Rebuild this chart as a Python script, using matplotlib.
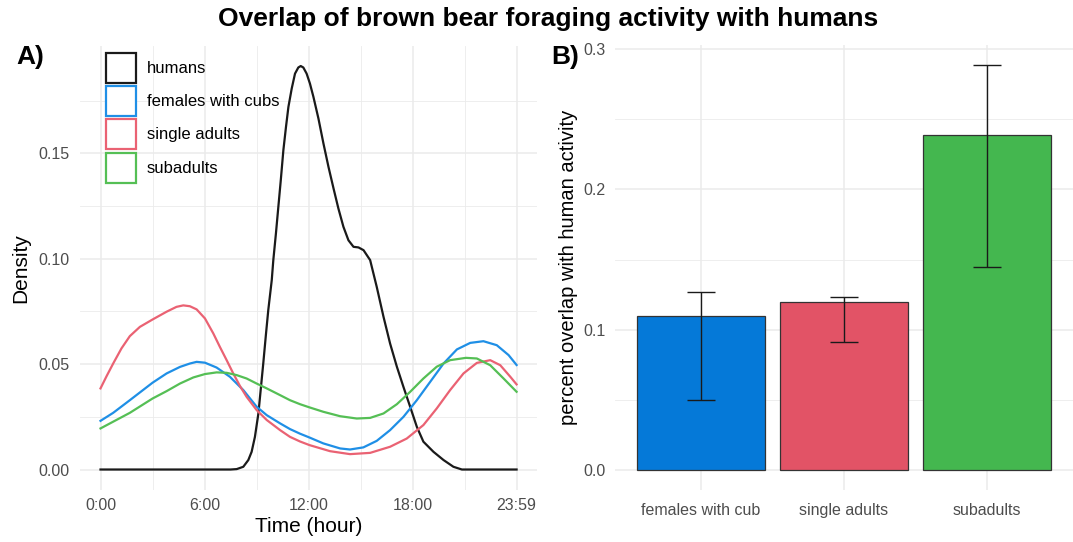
import numpy as np
import matplotlib
matplotlib.use("Agg")
from matplotlib import pyplot as plt
from matplotlib.patches import Patch

plt.rcParams['font.family'] = ['Liberation Sans', 'DejaVu Sans']

# ---- panel A: activity densities (hour of day -> density) ----
humans_h = [0, 7.5, 7.85, 8.23, 8.52, 8.71, 8.9, 9.1, 9.25, 9.38, 9.54, 9.67, 9.87, 9.96,
            10.11, 10.25, 10.39, 10.54, 10.69, 10.83, 11.02, 11.21, 11.4, 11.54, 11.69,
            11.88, 12.07, 12.27, 12.56, 12.85, 13.14, 13.43, 13.71, 14.0, 14.29, 14.58,
            14.87, 15.16, 15.45, 15.54, 15.92, 16.31, 16.69, 17.08, 17.46, 17.85, 18.23,
            18.61, 19.19, 19.77, 20.34, 20.83, 23.98]
humans_d = [0, 0, 0.0002, 0.0013, 0.0045, 0.0084, 0.0155, 0.0266, 0.0393, 0.0503, 0.0646,
            0.0757, 0.0899, 0.0994, 0.112, 0.1247, 0.1373, 0.1516, 0.1626, 0.1721, 0.1808,
            0.1879, 0.1908, 0.1915, 0.1908, 0.1879, 0.1832, 0.1769, 0.1666, 0.1547, 0.1436,
            0.1334, 0.1239, 0.1152, 0.1088, 0.1057, 0.1054, 0.1041, 0.1005, 0.0994, 0.0867,
            0.0725, 0.0598, 0.0488, 0.0392, 0.0297, 0.0203, 0.0132, 0.0084, 0.0045, 0.0013,
            0, 0]

cubs_h = [0, 0.73, 1.69, 3.0, 3.81, 4.58, 5.15, 5.54, 6.02, 6.69, 7.46, 8.23, 9.0, 9.58,
          10.35, 10.92, 11.5, 12.04, 12.84, 13.81, 14.38, 15.15, 15.92, 16.69, 17.46,
          18.23, 19.0, 19.77, 20.54, 21.31, 22.07, 22.84, 23.52, 23.98]
cubs_d = [0.0231, 0.0269, 0.0329, 0.0412, 0.0456, 0.0487, 0.0503, 0.0511, 0.0507, 0.0484,
          0.044, 0.0377, 0.0298, 0.0258, 0.0219, 0.0192, 0.0170, 0.0152, 0.0124, 0.0100,
          0.0095, 0.0105, 0.0136, 0.0187, 0.025, 0.0329, 0.0416, 0.0503, 0.057, 0.0601,
          0.0609, 0.059, 0.0543, 0.0496]

single_h = [0, 0.35, 0.73, 1.21, 1.69, 2.27, 3.0, 3.81, 4.38, 4.77, 5.15, 5.54, 6.02, 6.5,
            6.88, 7.27, 7.65, 8.04, 8.42, 9.0, 9.58, 10.35, 10.92, 11.5, 12.04, 13.23,
            14.38, 15.54, 16.69, 17.65, 18.61, 19.38, 20.15, 20.92, 21.69, 22.46, 23.04,
            23.62, 23.98]
single_d = [0.0385, 0.0443, 0.0503, 0.0575, 0.0633, 0.0677, 0.0712, 0.0749, 0.0772, 0.0779,
            0.0775, 0.076, 0.0717, 0.0646, 0.0582, 0.0519, 0.0456, 0.0396, 0.0345, 0.0282,
            0.0235, 0.0187, 0.0155, 0.0133, 0.0116, 0.0087, 0.0073, 0.0079, 0.0108, 0.0147,
            0.0211, 0.029, 0.0377, 0.0456, 0.0506, 0.0519, 0.0495, 0.044, 0.0404]

sub_h = [0, 0.73, 1.69, 3.0, 3.81, 4.58, 5.35, 6.02, 6.69, 7.27, 7.85, 8.42, 9.0, 9.58,
         10.35, 10.92, 11.5, 12.04, 12.84, 13.81, 14.77, 15.54, 16.31, 17.08, 17.85,
         18.61, 19.38, 20.15, 21.06, 21.69, 22.46, 23.23, 23.98]
sub_d = [0.0195, 0.0227, 0.0269, 0.0337, 0.0372, 0.0408, 0.0437, 0.0453, 0.0461, 0.0459,
         0.0448, 0.0432, 0.0408, 0.0385, 0.0353, 0.0329, 0.031, 0.0295, 0.0274, 0.0253,
         0.0242, 0.0245, 0.0266, 0.031, 0.0369, 0.0432, 0.0488, 0.0519, 0.053, 0.0527,
         0.0495, 0.0432, 0.0369]

# ---- panel B: overlap estimates with confidence intervals ----
groups = ['females with cub', 'single adults', 'subadults']
overlap = [0.110, 0.120, 0.2386]
ci_low = [0.050, 0.091, 0.145]
ci_high = [0.127, 0.123, 0.2886]

line_cols = {'humans': '#1a1a1a', 'females with cubs': '#1f8fe6',
             'single adults': '#ea6273', 'subadults': '#55bf55'}
bar_cols = ['#0579d8', '#e25366', '#44b74f']
grid_c = '#ebebeb'
tick_c = '#4d4d4d'

fig = plt.figure(figsize=(10.73, 5.42), dpi=100)
W, H = 1073, 542


def px_axes(x0, x1, y0, y1):
    return fig.add_axes([x0 / W, 1 - y1 / H, (x1 - x0) / W, (y1 - y0) / H])


def style(ax):
    for s in ax.spines.values():
        s.set_visible(False)
    ax.tick_params(length=0, colors=tick_c, labelsize=11.5)
    ax.set_axisbelow(True)


# panel A
ax1 = px_axes(79.7, 537.4, 45.8, 489.7)
style(ax1)
for h, d, name in [(humans_h, humans_d, 'humans'), (cubs_h, cubs_d, 'females with cubs'),
                   (single_h, single_d, 'single adults'), (sub_h, sub_d, 'subadults')]:
    ax1.plot(h, d, color=line_cols[name], lw=1.6, solid_joinstyle='round')
ax1.set_xlim(-1.199, 25.18)
ax1.set_ylim(-0.00958, 0.2011)
ax1.set_xticks([0, 6, 12, 18, 23.983])
ax1.set_xticklabels(['0:00', '6:00', '12:00', '18:00', '23:59'])
ax1.set_xticks([3, 9, 15, 21], minor=True)
ax1.set_yticks([0, 0.05, 0.10, 0.15])
ax1.set_yticklabels(['0.00', '0.05', '0.10', '0.15'])
ax1.set_yticks([0.025, 0.075, 0.125, 0.175], minor=True)
ax1.tick_params(which='minor', length=0)
ax1.tick_params(axis='x', pad=6)
ax1.tick_params(axis='y', pad=7)
ax1.grid(True, which='major', color=grid_c, lw=1.1)
ax1.grid(True, which='minor', color=grid_c, lw=0.6)
ax1.set_xlabel('Time (hour)', fontsize=15)
ax1.xaxis.set_label_coords(0.5, (489.7 - 526) / 443.9)
ax1.xaxis.label.set_va('center')
ax1.set_ylabel('Density', fontsize=15)
ax1.yaxis.set_label_coords((21 - 79.7) / 457.7, 0.5)
ax1.yaxis.label.set_va('center')

handles = [Patch(facecolor='white', edgecolor=c, lw=1.6) for c in line_cols.values()]
ax1.legend(handles, list(line_cols.keys()), loc='upper left',
           bbox_to_anchor=((106 - 79.7) / 457.7, 1 - (52.7 - 45.8) / 443.9),
           frameon=False, fontsize=12, handlelength=1.8, handleheight=2.39,
           labelspacing=0.2, handletextpad=0.65, borderpad=0, borderaxespad=0)

# panel B
ax2 = px_axes(615.2, 1072.8, 45.0, 490.2)
style(ax2)
xpos = np.arange(1, len(groups) + 1)
ax2.bar(xpos, overlap, width=0.9, color=bar_cols, edgecolor='#333333', lw=0.9, zorder=2)
yerr = [np.array(overlap) - np.array(ci_low), np.array(ci_high) - np.array(overlap)]
ax2.errorbar(xpos, overlap, yerr=yerr, fmt='none', ecolor='#1a1a1a', elinewidth=1.0,
             capsize=10, capthick=1.0, zorder=3)
ax2.set_xlim(0.4, 3.6)
ax2.set_ylim(-0.01443, 0.3030)
ax2.set_xticks(xpos)
ax2.set_xticklabels(groups)
ax2.set_yticks([0, 0.1, 0.2, 0.3])
ax2.set_yticklabels(['0.0', '0.1', '0.2', '0.3'])
ax2.set_yticks([0.05, 0.15, 0.25], minor=True)
ax2.tick_params(which='minor', length=0)
ax2.tick_params(axis='x', pad=9)
ax2.tick_params(axis='y', pad=7)
ax2.grid(True, which='major', color=grid_c, lw=1.1)
ax2.grid(True, which='minor', axis='y', color=grid_c, lw=0.6)
ax2.set_ylabel('percent overlap with human activity', fontsize=14.5)
ax2.yaxis.set_label_coords((569 - 615.2) / 457.6, 0.5)
ax2.yaxis.label.set_va('center')

fig.text(548 / W, 1 - 19 / H, 'Overlap of brown bear foraging activity with humans',
         ha='center', va='center', fontsize=19, fontweight='bold')
fig.text(16 / W, 1 - 57 / H, 'A)', ha='left', va='center', fontsize=19, fontweight='bold')
fig.text(551 / W, 1 - 57 / H, 'B)', ha='left', va='center', fontsize=19, fontweight='bold')

fig.savefig('out.png', dpi=100)
